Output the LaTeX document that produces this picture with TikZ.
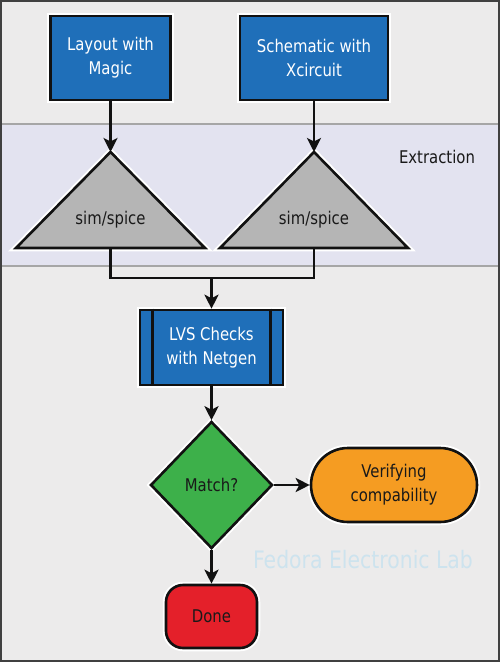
\documentclass[tikz,border=0pt]{standalone}
\usepackage{fontspec}
\setmainfont[FakeStretch=0.85]{DejaVu Sans}
\usetikzlibrary{shapes.geometric,arrows.meta,calc}
\definecolor{bgc}{HTML}{ECEBEB}
\definecolor{bandc}{HTML}{E3E3F0}
\definecolor{bluec}{HTML}{1F6FB9}
\definecolor{grayc}{HTML}{B5B5B5}
\definecolor{greenc}{HTML}{3DB04A}
\definecolor{orangec}{HTML}{F59C22}
\definecolor{redc}{HTML}{E4202A}
\definecolor{wmc}{HTML}{CDE3EE}
\definecolor{edgec}{HTML}{111111}
\begin{document}
\begin{tikzpicture}[x=1pt,y=-1pt,
  halo/.style={preaction={draw=white,line width=6.5pt}},
  shapebase/.style={draw=edgec,line width=2.6pt,halo,inner sep=0pt,align=center,font=\fontsize{17.5}{24}\selectfont},
  bluebox/.style={shapebase,rectangle,fill=bluec,text=white},
  tri/.style={draw=edgec,line width=2.6pt,fill=grayc,halo,line join=miter},
  decision/.style={shapebase,diamond,fill=greenc,text=black!90},
  pill/.style={shapebase,rectangle,fill=orangec,text=black!90,rounded corners=37pt},
  stopbox/.style={shapebase,rectangle,fill=redc,text=black!90,rounded corners=17pt},
  conn/.style={draw=edgec,line width=2.8pt},
  arr/.style={conn,-{Stealth[length=14pt,width=14pt,inset=3.5pt]}},
  lbl/.style={font=\fontsize{17.5}{24}\selectfont,text=black!90}]
\useasboundingbox (0,0) rectangle (500,662);
% background and band
\fill[bgc] (0,0) rectangle (500,662);
\fill[bandc] (0,124) rectangle (500,266);
\draw[gray!70,line width=2pt] (0,124) -- (500,124);
\draw[gray!70,line width=2pt] (0,266) -- (500,266);
\draw[black!75,line width=2pt] (1,1) rectangle (499,661);
\node[lbl] (extr) at (437,157) {Extraction};
% watermark
\node[font=\fontsize{24}{28}\selectfont,text=wmc] (wm) at (363,560) {Fedora Electronic Lab};
% top boxes
\node[bluebox,minimum width=120pt,minimum height=84pt] (layout) at (110.5,58) {Layout with\\Magic};
\node[bluebox,minimum width=148pt,minimum height=84pt] (schem) at (314,58) {Schematic with\\Xcircuit};
% triangles
\coordinate (apex1) at (110.5,152);
\coordinate (apex2) at (314,152);
\coordinate (base1) at (110.5,248);
\coordinate (base2) at (314,248);
\draw[tri] (apex1) -- (205,248) -- (16,248) -- cycle;
\draw[tri] (apex2) -- (408,248) -- (220,248) -- cycle;
\node[lbl] (sim1) at (110.5,220) {sim/spice};
\node[lbl] (sim2) at (314,220) {sim/spice};
\draw[arr] (layout.south -| apex1) -- (apex1);
\draw[arr] (schem.south -| apex2) -- (apex2);
% join
\coordinate (join) at (211.5,278);
\draw[conn] (base1) |- (join) -| (base2);
% LVS
\node[bluebox,minimum width=143pt,minimum height=75pt] (lvs) at (211.5,347.5) {LVS Checks\\with Netgen};
\draw[edgec,line width=2.6pt] ($(lvs.north west)+(14,0)$) -- ($(lvs.south west)+(14,0)$);
\draw[edgec,line width=2.6pt] ($(lvs.north east)+(-14,0)$) -- ($(lvs.south east)+(-14,0)$);
\draw[arr] (join) -- (lvs.north);
% decision
\node[decision,minimum width=122pt,minimum height=127pt] (match) at (211.5,485) {Match?};
\draw[arr] (lvs.south) -- (match.north);
\node[pill,minimum width=166pt,minimum height=74pt] (verify) at (394,485) {Verifying\\compability};
\draw[arr] (match.east) -- (verify.west);
\node[stopbox,minimum width=91pt,minimum height=63pt] (done) at (211.5,616.5) {Done};
\draw[arr] (match.south) -- (done.north);
\end{tikzpicture}
\end{document}
